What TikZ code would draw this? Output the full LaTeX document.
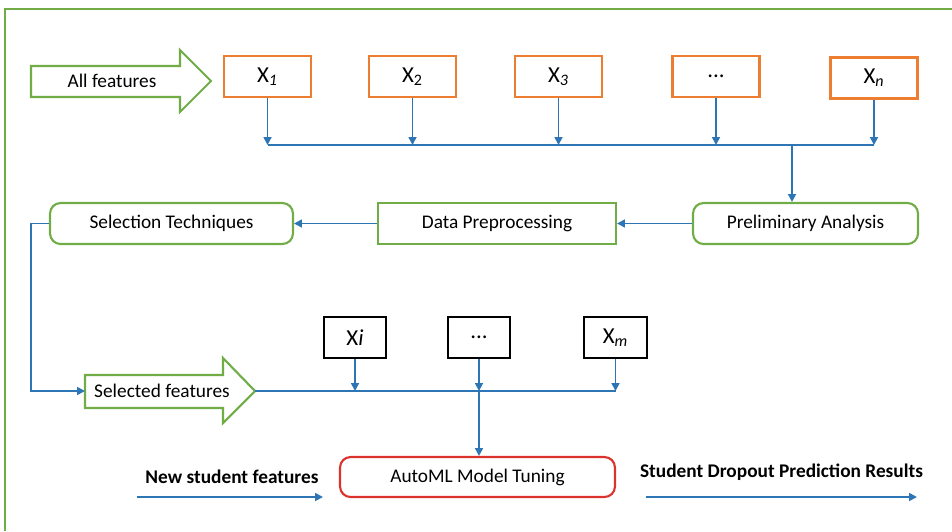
\documentclass[tikz,border=0pt]{standalone}
\usepackage{fontspec}
\setmainfont{Carlito}
\usetikzlibrary{arrows.meta}

\definecolor{xgreen}{RGB}{112,173,71}
\definecolor{xorange}{RGB}{237,125,49}
\definecolor{xblue}{RGB}{46,117,182}
\definecolor{xred}{RGB}{220,50,45}

\begin{document}
\begin{tikzpicture}[x=0.02cm,y=-0.02cm,
    feat_node/.style={draw=xorange,line width=1.2pt,minimum width=1.74cm,minimum height=0.82cm,font=\fontsize{13}{15}\selectfont},
    sel_node/.style={draw=black,line width=1.2pt,minimum width=1.24cm,minimum height=0.82cm,font=\fontsize{13}{15}\selectfont},
    stage_node/.style={draw=xgreen,line width=1.2pt,minimum height=0.82cm,font=\fontsize{11}{13}\selectfont},
    block_arrow/.style={draw=xgreen,line width=1.2pt,fill=white},
    wire/.style={draw=xblue,line width=1pt},
    link/.style={wire,-{Triangle[length=4.5pt,width=4.5pt]}}]

    \useasboundingbox (0,0) rectangle (952,531);
    \draw[xgreen,line width=0.9pt] (5,531) -- (5,9) -- (952,9);

    % all features
    \draw[block_arrow] (31,66) -- (180,66) -- (180,50) -- (211,81) -- (180,112) -- (180,97) -- (31,97) -- cycle;
    \node[font=\fontsize{11}{13}\selectfont] (af) at (112,81) {All features};

    \node[feat_node] (x1) at (267.5,76.5) {X\textsubscript{\textit{1}}};
    \node[feat_node] (x2) at (412.5,76.5) {X\textsubscript{2}};
    \node[feat_node] (x3) at (558.5,76.5) {X\textsubscript{\textit{3}}};
    \node[feat_node] (x4) at (716,76.5) {...};
    \node[feat_node] (xn) at (874,78) {X\textsubscript{\textit{n}}};

    \coordinate (bus) at (0,145);
    \coordinate (split) at (792,145);
    \foreach \n in {x1,x2,x3,x4,xn}
        \draw[link] (\n) -- (\n |- bus);
    \draw[wire] (x1 |- bus) -- (xn |- bus);

    % stages
    \node[stage_node,rounded corners=6pt,minimum width=4.5cm] (pa) at (805.5,223.5) {Preliminary Analysis};
    \node[stage_node,minimum width=4.76cm] (dp) at (497,223.5) {Data Preprocessing};
    \node[stage_node,rounded corners=6pt,minimum width=4.86cm] (st) at (171.5,223.5) {Selection Techniques};

    \draw[link] (split) -- (split |- pa.north);
    \draw[link] (pa) -- (dp);
    \draw[link] (dp) -- (st);

    % selected features
    \coordinate (sf_tail) at (85,391);
    \coordinate (sf_tip) at (255,391);
    \draw[block_arrow] (85,375) -- (223,375) -- (223,358) -- (255,391) -- (223,423) -- (223,408) -- (85,408) -- cycle;
    \node[font=\fontsize{11}{13}\selectfont] (sf) at (162,391) {Selected features};
    \draw[link] (st.west) -- ++(-18,0) |- (sf_tail);

    \node[sel_node] (xi) at (355,337.5) {X\textit{i}};
    \node[sel_node] (xd) at (479,337.5) {...};
    \node[sel_node,minimum width=1.26cm] (xm) at (615.5,337.5) {X\textsubscript{\textit{m}}};

    \coordinate (bus2) at (0,391);
    \foreach \n in {xi,xd,xm}
        \draw[link] (\n) -- (\n |- bus2);
    \draw[wire] (sf_tip) -- (xm |- bus2);

    % tuning
    \node[draw=xred,line width=1.2pt,rounded corners=6pt,minimum width=5.5cm,minimum height=0.8cm,font=\fontsize{11}{13}\selectfont] (ml) at (477.5,477) {AutoML Model Tuning};
    \draw[link] (xd |- bus2) -- (xd |- ml.north);

    \node[font=\fontsize{11}{13}\selectfont\bfseries] (nsf) at (232,477) {New student features};
    \coordinate (in_a) at (137,497);
    \coordinate (in_b) at (323,497);
    \draw[link] (in_a) -- (in_b);

    \node[font=\fontsize{11}{13}\selectfont\bfseries] (res) at (781.5,472) {Student Dropout Prediction Results};
    \coordinate (out_a) at (646,497);
    \coordinate (out_b) at (917,497);
    \draw[link] (out_a) -- (out_b);
\end{tikzpicture}
\end{document}
